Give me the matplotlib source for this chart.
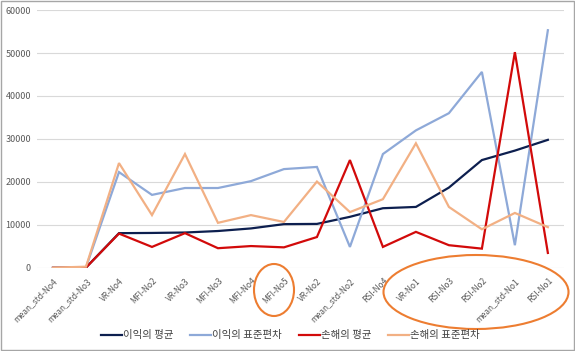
import matplotlib.pyplot as plt
import numpy as np
from matplotlib.patches import Ellipse, Rectangle

plt.rcParams['font.family'] = ['Noto Sans CJK KR', 'DejaVu Sans']

categories = ["mean_std-No4", "mean_std-No3", "VR-No4", "MFI-No2", "VR-No3",
              "MFI-No3", "MFI-No4", "MFI-No5", "VR-No2", "mean_std-No2",
              "RSI-No4", "VR-No1", "RSI-No3", "RSI-No2", "mean_std-No1", "RSI-No1"]

profit_mean = [50, 100, 8100, 8150, 8250, 8600, 9200, 10200, 10250, 11900,
               13900, 14200, 18700, 25100, 27300, 29800]
profit_std = [50, 150, 22300, 17000, 18600, 18600, 20200, 23000, 23500, 4900,
              26500, 32000, 36000, 45600, 5300, 55300]
loss_mean = [30, 100, 8000, 4900, 8100, 4600, 5100, 4800, 7200, 25100,
             4900, 8400, 5300, 4500, 50200, 3500]
loss_std = [80, 300, 24400, 12300, 26500, 10500, 12300, 10700, 20100, 13000,
            16000, 29000, 14200, 9000, 12800, 9500]

series = [
    ("이익의 평균", profit_mean, "#0d1f4f"),
    ("이익의 표준편차", profit_std, "#8ea9d8"),
    ("손해의 평균", loss_mean, "#d20a0a"),
    ("손해의 표준편차", loss_std, "#f2b084"),
]

fig = plt.figure(figsize=(5.75, 3.51), dpi=100)
ax = fig.add_axes([0.0635, 0.2365, 0.918, 0.735])

x = np.arange(len(categories))
for label, vals, color in series:
    ax.plot(x, vals, color=color, linewidth=1.6, label=label, solid_joinstyle="miter")

ax.set_xlim(-0.5, len(categories) - 0.5)
ax.set_ylim(0, 60000)
ax.set_yticks(np.arange(0, 60001, 10000))
ax.yaxis.grid(True, color="#d9d9d9", linewidth=0.8)
ax.set_axisbelow(True)
for s in ax.spines.values():
    s.set_visible(False)
ax.tick_params(axis="both", length=0, colors="#595959", labelsize=6.5)
ax.tick_params(axis="y", pad=4)
ax.set_xticks(x)
ax.set_xticklabels(categories, rotation=45, ha="right", rotation_mode="anchor")
ax.tick_params(axis="x", pad=6, labelsize=6)

fig.legend(loc="center", bbox_to_anchor=(0.505, 0.045), ncol=4, frameon=False,
           fontsize=7.5, handlelength=2.0, handletextpad=0.1, columnspacing=1.6,
           labelcolor="#404040")

# hand-drawn orange highlights
fig.patches.append(Ellipse((274 / 575, 1 - 290 / 351), 40 / 575, 52 / 351,
                           transform=fig.transFigure, fill=False,
                           edgecolor="#ed7d31", linewidth=1.5))
fig.patches.append(Ellipse((476 / 575, 1 - 292 / 351), 185 / 575, 74 / 351,
                           transform=fig.transFigure, fill=False,
                           edgecolor="#ed7d31", linewidth=1.5))
fig.patches.append(Rectangle((0.001, 0.003), 0.997, 0.995, transform=fig.transFigure,
                             fill=False, edgecolor="#a6a6a6", linewidth=1.0))

fig.savefig("out.png", dpi=100)
